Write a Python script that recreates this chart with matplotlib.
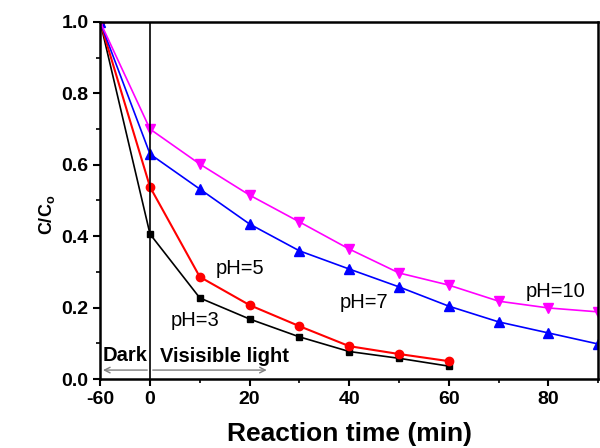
#coding: utf-8
import matplotlib
matplotlib.use('Agg')
import matplotlib.pyplot as plt

# time values (min); the dark period -60 is drawn compressed at -10
tempo = [-60, 0, 10, 20, 30, 40, 50, 60, 70, 80, 90]
ph3 = [1.0, 0.406, 0.227, 0.168, 0.118, 0.077, 0.058, 0.036]
ph5 = [1.0, 0.538, 0.286, 0.207, 0.148, 0.092, 0.070, 0.050]
ph7 = [1.0, 0.630, 0.532, 0.434, 0.359, 0.308, 0.258, 0.204, 0.160, 0.129, 0.098]
ph10 = [1.0, 0.700, 0.602, 0.515, 0.440, 0.364, 0.297, 0.263, 0.218, 0.199, 0.188]
x_ticks = [-60, 0, 20, 40, 60, 80]


def pos(t):
    # escala quebrada: -60 fica em -10
    return [-10 if v == -60 else v for v in t]


plt.rcParams['font.family'] = ['Liberation Sans', 'DejaVu Sans']
fig = plt.figure(figsize=(6, 4.48), dpi=100)
ax = fig.add_axes([0.167, 0.154, 0.830, 0.797])

ax.plot(pos(tempo[:8]), ph3, color='black', marker='s', markersize=5, linewidth=1.2)
ax.plot(pos(tempo[:8]), ph5, color='red', marker='o', markersize=6, linewidth=1.5)
ax.plot(pos(tempo), ph7, color='blue', marker='^', markersize=7, linewidth=1.2)
ax.plot(pos(tempo), ph10, color='magenta', marker='v', markersize=7, linewidth=1.2)

ax.axvline(0, ymin=0, ymax=1, color='black', linewidth=1.2)
ax.annotate('', xy=(-10, 0.025), xytext=(0, 0.025),
            arrowprops=dict(arrowstyle='->', color='gray', lw=1))
ax.annotate('', xy=(24, 0.025), xytext=(0, 0.025),
            arrowprops=dict(arrowstyle='->', color='gray', lw=1))
ax.text(-9.6, 0.066, 'Dark', fontsize=14.5, fontweight='bold', va='center')
ax.text(2, 0.062, 'Visisible light', fontsize=14.5, fontweight='bold', va='center')

ax.text(9, 0.165, 'pH=3', fontsize=14.5, ha='center', va='center')
ax.text(18, 0.31, 'pH=5', fontsize=14.5, ha='center', va='center')
ax.text(43, 0.215, 'pH=7', fontsize=14.5, ha='center', va='center')
ax.text(81.5, 0.246, 'pH=10', fontsize=14.5, ha='center', va='center')

ax.set_xlim(-10, 90)
ax.set_ylim(0, 1.0)
ax.set_xticks(pos(x_ticks))
ax.set_xticklabels([str(v) for v in x_ticks])
ax.set_xticks([10, 30, 50, 70, 90], minor=True)
ax.set_yticks([0, 0.2, 0.4, 0.6, 0.8, 1.0])
ax.set_yticklabels(['0.0', '0.2', '0.4', '0.6', '0.8', '1.0'])
ax.set_yticks([0.1, 0.3, 0.5, 0.7, 0.9], minor=True)
ax.tick_params(which='major', direction='out', length=5, width=1.5, labelsize=14)
ax.tick_params(which='minor', direction='out', length=3, width=1.2)
for lab in ax.get_xticklabels() + ax.get_yticklabels():
    lab.set_fontweight('bold')
for s in ax.spines.values():
    s.set_linewidth(1.8)

ax.set_xlabel('Reaction time (min)', fontsize=19, fontweight='bold', labelpad=10)
ax.set_ylabel('C/C$_\\mathregular{o}$', fontsize=13, fontweight='bold')
ax.yaxis.set_label_coords(-0.086, 0.46)

fig.savefig('out.png', dpi=100)
